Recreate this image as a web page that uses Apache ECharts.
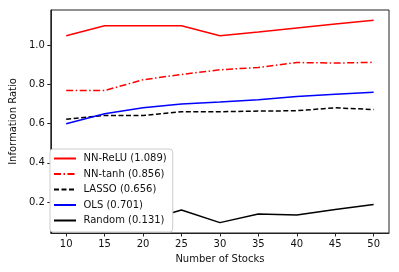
<!DOCTYPE html>
<html><head><meta charset="utf-8">
<script src="https://cdn.jsdelivr.net/npm/echarts@6/dist/echarts.min.js"></script>
<style>html,body{margin:0;padding:0;background:#fff}#c{width:399px;height:272px}</style>
</head><body><div id="c"></div>
<script>
var stocks = [10, 15, 20, 25, 30, 35, 40, 45, 50];
var nnRelu = [1.049, 1.100, 1.100, 1.100, 1.049, 1.068, 1.088, 1.108, 1.128];
var nnTanh = [0.769, 0.769, 0.824, 0.851, 0.875, 0.887, 0.912, 0.909, 0.913];
var lasso  = [0.623, 0.642, 0.642, 0.661, 0.661, 0.664, 0.666, 0.681, 0.672];
var ols    = [0.600, 0.651, 0.681, 0.700, 0.710, 0.722, 0.739, 0.750, 0.760];
var random = [0.100, 0.100, 0.102, 0.159, 0.095, 0.139, 0.134, 0.162, 0.188];
var seriesNames = ['NN-ReLU (1.089)', 'NN-tanh (0.856)', 'LASSO (0.656)', 'OLS (0.701)', 'Random (0.131)'];
var xTicks = [10, 15, 20, 25, 30, 35, 40, 45, 50];
var yTicks = [0.2, 0.4, 0.6, 0.8, 1.0];

function pairs(ys){ return stocks.map(function(x,i){ return [x, ys[i]]; }); }
function mk(name, ys, color, type){
  return { name: name, type: 'line', data: pairs(ys), symbol: 'none', showSymbol: false,
    lineStyle: { color: color, width: 1.5, type: type }, itemStyle: { color: color }, animation: false, z: 2 };
}
var chart = echarts.init(document.getElementById('c'), null, {renderer: 'canvas'});
var font = 'DejaVu Sans';
chart.setOption({
  animation: false,
  textStyle: { fontFamily: font },
  grid: { left: 45, right: 10, top: 10, bottom: 39, show: true, borderColor: '#222', borderWidth: 1, backgroundColor: 'transparent', containLabel: false },
  xAxis: { type: 'value', min: 8, max: 52, interval: 5,
    name: 'Number of Stocks', nameLocation: 'middle', nameGap: 21,
    nameTextStyle: { fontFamily: font, fontSize: 10, color: '#111' },
    axisLine: { show: true, lineStyle: { color: '#222' } },
    axisTick: { show: true, length: 3.5, lineStyle: { color: '#222' }, customValues: xTicks },
    axisLabel: { fontFamily: font, fontSize: 10, color: '#111', margin: 6, customValues: xTicks },
    splitLine: { show: false } },
  yAxis: { type: 'value', min: 0.042, max: 1.18,
    name: 'Information Ratio', nameLocation: 'middle', nameGap: 32,
    nameTextStyle: { fontFamily: font, fontSize: 10, color: '#111' },
    axisLine: { show: true, lineStyle: { color: '#222' } },
    axisTick: { show: true, length: 3.5, lineStyle: { color: '#222' }, customValues: yTicks },
    axisLabel: { fontFamily: font, fontSize: 10, color: '#111', margin: 6, customValues: yTicks,
      formatter: function(v){ return v.toFixed(1); } },
    splitLine: { show: false } },
  legend: { orient: 'vertical', left: 50, top: 149, data: seriesNames,
    itemWidth: 22, itemHeight: 11, itemGap: 4.5, padding: [4, 6, 6, 3],
    itemStyle: { opacity: 0, borderWidth: 0 },
    backgroundColor: 'rgba(255,255,255,1)', borderColor: '#cccccc', borderWidth: 1, borderRadius: 3,
    textStyle: { fontFamily: font, fontSize: 10, lineHeight: 11, color: '#111', padding: [0, 0, 0, 2.5] }, z: 10 },
  series: [
    mk(seriesNames[0], nnRelu, '#ff0000', 'solid'),
    mk(seriesNames[1], nnTanh, '#ff0000', [7, 2.5, 1.5, 2.5]),
    mk(seriesNames[2], lasso, '#000000', [5, 2.5]),
    mk(seriesNames[3], ols, '#0000ff', 'solid'),
    mk(seriesNames[4], random, '#000000', 'solid')
  ]
});
</script></body></html>
